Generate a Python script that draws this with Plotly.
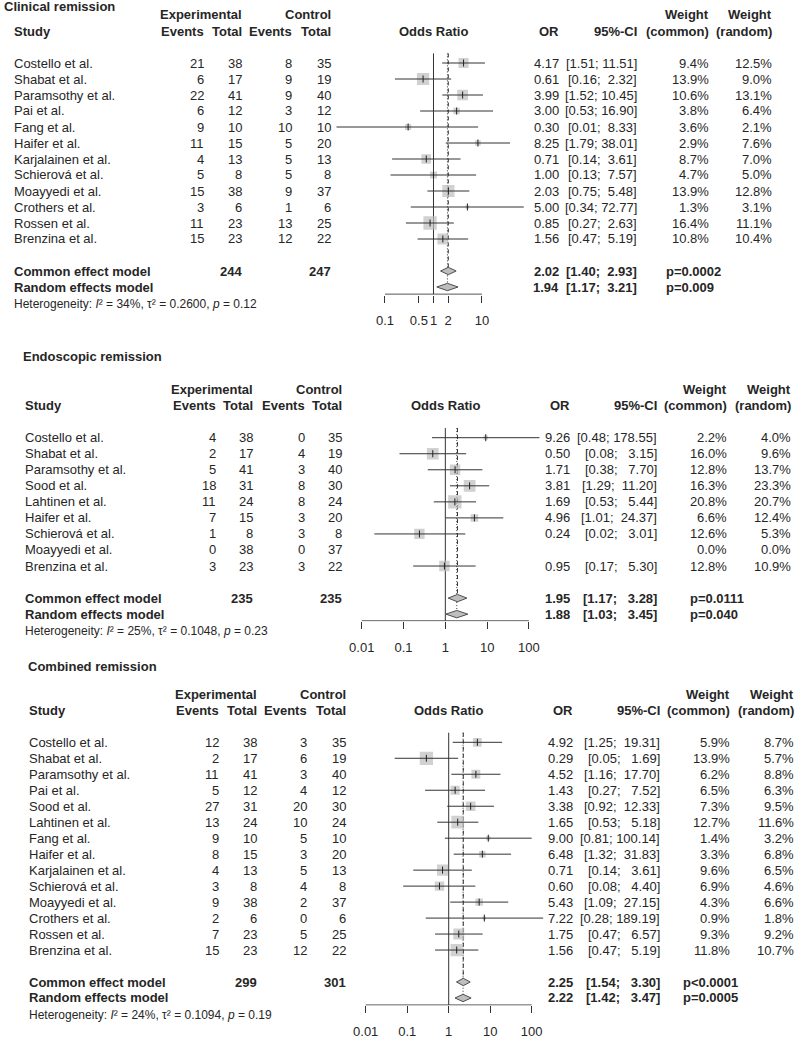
import math
import plotly.graph_objects as go

FIG_W, FIG_H = 798, 1039
FONT = "Liberation Sans, Arial, sans-serif"
TXT = "#262626"
NB = "\u00a0"

# ---------------- Clinical remission ----------------
clin_title = "Clinical remission"
clin_studies = ["Costello et al.", "Shabat et al.", "Paramsothy et al.", "Pai et al.",
                "Fang et al.", "Haifer et al.", "Karjalainen et al.", "Schierová et al.",
                "Moayyedi et al.", "Crothers et al.", "Rossen et al.", "Brenzina et al."]
clin_exp_events = [21, 6, 22, 6, 9, 11, 4, 5, 15, 3, 11, 15]
clin_exp_total = [38, 17, 41, 12, 10, 15, 13, 8, 38, 6, 23, 23]
clin_ctrl_events = [8, 9, 9, 3, 10, 5, 5, 5, 9, 1, 13, 12]
clin_ctrl_total = [35, 19, 40, 12, 10, 20, 13, 8, 37, 6, 25, 22]
clin_or = [4.17, 0.61, 3.99, 3.00, 0.30, 8.25, 0.71, 1.00, 2.03, 5.00, 0.85, 1.56]
clin_lower = [1.51, 0.16, 1.52, 0.53, 0.01, 1.79, 0.14, 0.13, 0.75, 0.34, 0.27, 0.47]
clin_upper = [11.51, 2.32, 10.45, 16.90, 8.33, 38.01, 3.61, 7.57, 5.48, 72.77, 2.63, 5.19]
clin_w_common = [9.4, 13.9, 10.6, 3.8, 3.6, 2.9, 8.7, 4.7, 13.9, 1.3, 16.4, 10.8]
clin_w_random = [12.5, 9.0, 13.1, 6.4, 2.1, 7.6, 7.0, 5.0, 12.8, 3.1, 11.1, 10.4]
clin_common = [2.02, 1.40, 2.93]
clin_random = [1.94, 1.17, 3.21]
clin_p_common = "p=0.0002"
clin_p_random = "p=0.009"
clin_n_exp = 244
clin_n_ctrl = 247
clin_het = [34, 0.2600, 0.12]
clin_ticks = [0.1, 0.5, 1, 2, 10]
clin_ticktext = ["0.1", "0.5", "1", "2", "10"]

# ---------------- Endoscopic remission ----------------
endo_title = "Endoscopic remission"
endo_studies = ["Costello et al.", "Shabat et al.", "Paramsothy et al.", "Sood et al.",
                "Lahtinen et al.", "Haifer et al.", "Schierová et al.", "Moayyedi et al.",
                "Brenzina et al."]
endo_exp_events = [4, 2, 5, 18, 11, 7, 1, 0, 3]
endo_exp_total = [38, 17, 41, 31, 24, 15, 8, 38, 23]
endo_ctrl_events = [0, 4, 3, 8, 8, 3, 3, 0, 3]
endo_ctrl_total = [35, 19, 40, 30, 24, 20, 8, 37, 22]
endo_or = [9.26, 0.50, 1.71, 3.81, 1.69, 4.96, 0.24, None, 0.95]
endo_lower = [0.48, 0.08, 0.38, 1.29, 0.53, 1.01, 0.02, None, 0.17]
endo_upper = [178.55, 3.15, 7.70, 11.20, 5.44, 24.37, 3.01, None, 5.30]
endo_w_common = [2.2, 16.0, 12.8, 16.3, 20.8, 6.6, 12.6, 0.0, 12.8]
endo_w_random = [4.0, 9.6, 13.7, 23.3, 20.7, 12.4, 5.3, 0.0, 10.9]
endo_common = [1.95, 1.17, 3.28]
endo_random = [1.88, 1.03, 3.45]
endo_p_common = "p=0.0111"
endo_p_random = "p=0.040"
endo_n_exp = 235
endo_n_ctrl = 235
endo_het = [25, 0.1048, 0.23]
endo_ticks = [0.01, 0.1, 1, 10, 100]
endo_ticktext = ["0.01", "0.1", "1", "10", "100"]

# ---------------- Combined remission ----------------
comb_title = "Combined remission"
comb_studies = ["Costello et al.", "Shabat et al.", "Paramsothy et al.", "Pai et al.",
                "Sood et al.", "Lahtinen et al.", "Fang et al.", "Haifer et al.",
                "Karjalainen et al.", "Schierová et al.", "Moayyedi et al.", "Crothers et al.",
                "Rossen et al.", "Brenzina et al."]
comb_exp_events = [12, 2, 11, 5, 27, 13, 9, 8, 4, 3, 9, 2, 7, 15]
comb_exp_total = [38, 17, 41, 12, 31, 24, 10, 15, 13, 8, 38, 6, 23, 23]
comb_ctrl_events = [3, 6, 3, 4, 20, 10, 5, 3, 5, 4, 2, 0, 5, 12]
comb_ctrl_total = [35, 19, 40, 12, 30, 24, 10, 20, 13, 8, 37, 6, 25, 22]
comb_or = [4.92, 0.29, 4.52, 1.43, 3.38, 1.65, 9.00, 6.48, 0.71, 0.60, 5.43, 7.22, 1.75, 1.56]
comb_lower = [1.25, 0.05, 1.16, 0.27, 0.92, 0.53, 0.81, 1.32, 0.14, 0.08, 1.09, 0.28, 0.47, 0.47]
comb_upper = [19.31, 1.69, 17.70, 7.52, 12.33, 5.18, 100.14, 31.83, 3.61, 4.40, 27.15, 189.19, 6.57, 5.19]
comb_w_common = [5.9, 13.9, 6.2, 6.5, 7.3, 12.7, 1.4, 3.3, 9.6, 6.9, 4.3, 0.9, 9.3, 11.8]
comb_w_random = [8.7, 5.7, 8.8, 6.3, 9.5, 11.6, 3.2, 6.8, 6.5, 4.6, 6.6, 1.8, 9.2, 10.7]
comb_common = [2.25, 1.54, 3.30]
comb_random = [2.22, 1.42, 3.47]
comb_p_common = "p<0.0001"
comb_p_random = "p=0.0005"
comb_n_exp = 299
comb_n_ctrl = 301
comb_het = [24, 0.1094, 0.19]
comb_ticks = [0.01, 0.1, 1, 10, 100]
comb_ticktext = ["0.01", "0.1", "1", "10", "100"]

panels = [
    dict(title=clin_title, studies=clin_studies, ee=clin_exp_events, et=clin_exp_total,
         ce=clin_ctrl_events, ct=clin_ctrl_total, orv=clin_or, lo=clin_lower, hi=clin_upper,
         wc=clin_w_common, wr=clin_w_random, common=clin_common, random=clin_random,
         pc=clin_p_common, pr=clin_p_random, ne=clin_n_exp, nc=clin_n_ctrl, het=clin_het,
         ticks=clin_ticks, ticktext=clin_ticktext),
    dict(title=endo_title, studies=endo_studies, ee=endo_exp_events, et=endo_exp_total,
         ce=endo_ctrl_events, ct=endo_ctrl_total, orv=endo_or, lo=endo_lower, hi=endo_upper,
         wc=endo_w_common, wr=endo_w_random, common=endo_common, random=endo_random,
         pc=endo_p_common, pr=endo_p_random, ne=endo_n_exp, nc=endo_n_ctrl, het=endo_het,
         ticks=endo_ticks, ticktext=endo_ticktext),
    dict(title=comb_title, studies=comb_studies, ee=comb_exp_events, et=comb_exp_total,
         ce=comb_ctrl_events, ct=comb_ctrl_total, orv=comb_or, lo=comb_lower, hi=comb_upper,
         wc=comb_w_common, wr=comb_w_random, common=comb_common, random=comb_random,
         pc=comb_p_common, pr=comb_p_random, ne=comb_n_exp, nc=comb_n_ctrl, het=comb_het,
         ticks=comb_ticks, ticktext=comb_ticktext),
]

# ---------------- layout geometry (target pixels) ----------------
GEOM = [
    dict(row0=63.0, sp=16.0, c=433.5, s=48.5, xr=(-2.1, 2.0), axis_k=14.45,
         title_k=-3.56, title_x=3, study_x=13, ee=205, et=243, ce=293, ct=332,
         orx=560, cix=638, wcx=710, wrx=773, px=665),
    dict(row0=437.7, sp=16.04, c=445.35, s=41.8, xr=(-2.1, 2.4), axis_k=11.42,
         title_k=-5.09, title_x=22, study_x=24, ee=217, et=254, ce=306, ct=343,
         orx=571.5, cix=658, wcx=728, wrx=792, px=689.5),
    dict(row0=742.3, sp=15.98, c=448.7, s=41.5, xr=(-2.1, 2.45), axis_k=16.44,
         title_k=-4.73, title_x=27, study_x=28, ee=220, et=257.7, ce=308, ct=346.7,
         orx=574, cix=661, wcx=731, wrx=795.5, px=681.7),
]

# horizontal calibration of the rendered page (measured offset / scale)
X_OFF, X_SC = 8.0, 0.99


def X(px):
    """target picture x (pixels) -> paper fraction"""
    return (px - X_OFF) / X_SC / FIG_W


SQ_MAX = 13.3
DIAM_H = 0.23
LINE_C = "#333333"

fig = go.Figure()
annotations = []


def txt(s, x, ypx, anchor="left", bold=False, size=13, xref="paper"):
    if bold:
        s = f"<b>{s}</b>"
    annotations.append(dict(
        text=s, x=(X(x) if xref == "paper" else x), y=1 - ypx / FIG_H, xref=xref, yref="paper",
        xanchor=anchor, yanchor="middle", showarrow=False, borderpad=0,
        font=dict(family=FONT, size=size, color=TXT)))


layout_axes = {}
for i, (P, G) in enumerate(zip(panels, GEOM), start=1):
    xa = "x" if i == 1 else f"x{i}"
    ya = "y" if i == 1 else f"y{i}"
    xkey = "xaxis" if i == 1 else f"xaxis{i}"
    ykey = "yaxis" if i == 1 else f"yaxis{i}"
    n = len(P["studies"])
    k_common, k_random = n + 1, n + 2
    ybot = G["axis_k"] + 0.03
    ytop = -1.0
    lo_r, hi_r = G["xr"]

    def rowpx(k, G=G):
        return G["row0"] + k * G["sp"]

    layout_axes[xkey] = dict(
        type="log", range=[lo_r, hi_r],
        domain=[X(G["c"] + G["s"] * lo_r), X(G["c"] + G["s"] * hi_r)],
        anchor=ya, showgrid=False, zeroline=False, showline=False,
        ticks="outside", ticklen=7, tickwidth=1, tickcolor=LINE_C, tickangle=0,
        tickvals=P["ticks"], ticktext=P["ticktext"], ticklabelstandoff=7,
        tickfont=dict(family=FONT, size=13, color=TXT), fixedrange=True)
    layout_axes[ykey] = dict(
        range=[ybot, ytop],
        domain=[1 - rowpx(ybot) / FIG_H, 1 - rowpx(ytop) / FIG_H],
        anchor=xa, visible=False, fixedrange=True)

    ks = list(range(n))
    ce_est, re_est = P["common"][0], P["random"][0]

    # reference line at OR = 1
    fig.add_trace(go.Scatter(x=[1, 1], y=[-0.6, G["axis_k"]], mode="lines",
                             line=dict(color=LINE_C, width=1), xaxis=xa, yaxis=ya, hoverinfo="skip"))
    # common effect (dashed) and random effects (dotted) lines
    fig.add_trace(go.Scatter(x=[ce_est, ce_est], y=[-0.6, k_common - DIAM_H], mode="lines",
                             line=dict(color=LINE_C, width=1, dash="4px,3px"),
                             xaxis=xa, yaxis=ya, hoverinfo="skip"))
    fig.add_trace(go.Scatter(x=[re_est, re_est], y=[-0.6, k_random - DIAM_H], mode="lines",
                             line=dict(color=LINE_C, width=1, dash="1px,2px"),
                             xaxis=xa, yaxis=ya, hoverinfo="skip"))

    # squares sized by common-effect weight
    wmax = max(P["wc"])
    sx, sy, ss = [], [], []
    for k in ks:
        if P["orv"][k] is None or P["wc"][k] <= 0:
            continue
        sx.append(P["orv"][k])
        sy.append(k)
        ss.append(SQ_MAX * math.sqrt(P["wc"][k] / wmax))
    fig.add_trace(go.Scatter(x=sx, y=sy, mode="markers",
                             marker=dict(symbol="square", size=ss, color="#BEBEBE", line=dict(width=0)),
                             xaxis=xa, yaxis=ya, hoverinfo="skip"))
    # confidence intervals
    cx, cy = [], []
    for k in ks:
        if P["orv"][k] is None:
            continue
        cx += [P["lo"][k], P["hi"][k], None]
        cy += [k, k, None]
    fig.add_trace(go.Scatter(x=cx, y=cy, mode="lines", line=dict(color=LINE_C, width=1),
                             xaxis=xa, yaxis=ya, hoverinfo="skip"))
    # point estimate ticks
    fig.add_trace(go.Scatter(x=[P["orv"][k] for k in ks if P["orv"][k] is not None],
                             y=[k for k in ks if P["orv"][k] is not None], mode="markers",
                             marker=dict(symbol="line-ns", size=5, line=dict(color="#222222", width=1)),
                             xaxis=xa, yaxis=ya, hoverinfo="skip"))
    # pooled diamonds
    for est, kk in ((P["common"], k_common), (P["random"], k_random)):
        m, l, h = est
        fig.add_trace(go.Scatter(x=[l, m, h, m, l], y=[kk, kk - DIAM_H, kk, kk + DIAM_H, kk],
                                 mode="lines", fill="toself", fillcolor="#BEBEBE",
                                 line=dict(color="#4d4d4d", width=1),
                                 xaxis=xa, yaxis=ya, hoverinfo="skip"))
    # axis baseline between first and last tick
    fig.add_trace(go.Scatter(x=[P["ticks"][0], P["ticks"][-1]], y=[G["axis_k"], G["axis_k"]],
                             mode="lines", line=dict(color=LINE_C, width=1),
                             xaxis=xa, yaxis=ya, hoverinfo="skip"))

    # ---------- text ----------
    txt(P["title"], G["title_x"], rowpx(G["title_k"]), bold=True)
    txt("Experimental", G["et"], rowpx(-3), anchor="right", bold=True)
    txt("Control", G["ct"], rowpx(-3), anchor="right", bold=True)
    txt("Study", G["study_x"], rowpx(-2), bold=True)
    txt("Events", G["ee"], rowpx(-2), anchor="right", bold=True)
    txt("Total", G["et"], rowpx(-2), anchor="right", bold=True)
    txt("Events", G["ce"], rowpx(-2), anchor="right", bold=True)
    txt("Total", G["ct"], rowpx(-2), anchor="right", bold=True)
    txt("Odds Ratio", 0, rowpx(-2), anchor="center", bold=True, xref=xa)
    txt("OR", G["orx"], rowpx(-2), anchor="right", bold=True)
    txt("95%-CI", G["cix"], rowpx(-2), anchor="right", bold=True)
    txt("Weight", G["wcx"], rowpx(-3), anchor="right", bold=True)
    txt("(common)", G["wcx"], rowpx(-2), anchor="right", bold=True)
    txt("Weight", G["wrx"], rowpx(-3), anchor="right", bold=True)
    txt("(random)", G["wrx"], rowpx(-2), anchor="right", bold=True)

    lo_w = max(len(f"{v:.2f}") for v in [x for x in P["lo"] if x is not None] + [P["common"][1], P["random"][1]])
    hi_w = max(len(f"{v:.2f}") for v in [x for x in P["hi"] if x is not None] + [P["common"][2], P["random"][2]])

    def ci_str(l, h, lo_w=lo_w, hi_w=hi_w):
        return "[" + f"{l:.2f}".rjust(lo_w, NB) + ";" + NB + f"{h:.2f}".rjust(hi_w, NB) + "]"

    for k in ks:
        y = rowpx(k)
        txt(P["studies"][k], G["study_x"], y)
        txt(str(P["ee"][k]), G["ee"], y, anchor="right")
        txt(str(P["et"][k]), G["et"], y, anchor="right")
        txt(str(P["ce"][k]), G["ce"], y, anchor="right")
        txt(str(P["ct"][k]), G["ct"], y, anchor="right")
        if P["orv"][k] is not None:
            txt(f"{P['orv'][k]:.2f}", G["orx"], y, anchor="right")
            txt(ci_str(P["lo"][k], P["hi"][k]), G["cix"], y, anchor="right")
        txt(f"{P['wc'][k]:.1f}%", G["wcx"], y, anchor="right")
        txt(f"{P['wr'][k]:.1f}%", G["wrx"], y, anchor="right")

    y = rowpx(k_common)
    txt("Common effect model", G["study_x"], y, bold=True)
    txt(str(P["ne"]), G["et"], y, anchor="right", bold=True)
    txt(str(P["nc"]), G["ct"], y, anchor="right", bold=True)
    txt(f"{P['common'][0]:.2f}", G["orx"], y, anchor="right", bold=True)
    txt(ci_str(P["common"][1], P["common"][2]), G["cix"], y, anchor="right", bold=True)
    txt(P["pc"], G["px"], y, bold=True)

    y = rowpx(k_random)
    txt("Random effects model", G["study_x"], y, bold=True)
    txt(f"{P['random'][0]:.2f}", G["orx"], y, anchor="right", bold=True)
    txt(ci_str(P["random"][1], P["random"][2]), G["cix"], y, anchor="right", bold=True)
    txt(P["pr"], G["px"], y, bold=True)

    i2, tau2, ph = P["het"]
    het = (f"Heterogeneity: <i>I</i>² = {i2}%, τ² = {tau2:.4f}, "
           f"<i>p</i> = {ph:.2f}")
    txt(het, G["study_x"], rowpx(n + 3.05), size=12)

fig.update_layout(
    width=FIG_W, height=FIG_H, margin=dict(l=0, r=0, t=0, b=0),
    paper_bgcolor="white", plot_bgcolor="rgba(0,0,0,0)", showlegend=False,
    annotations=annotations, **layout_axes)

fig.write_html(
    "out.html", config={"displayModeBar": False},
    post_script=("document.documentElement.style.margin='0';document.body.style.margin='0';"
                 "document.body.style.padding='0';document.body.style.overflow='hidden';"
                 "var d=document.getElementById('{plot_id}');d.style.position='absolute';"
                 "d.style.left='0px';d.style.top='0px';"))
